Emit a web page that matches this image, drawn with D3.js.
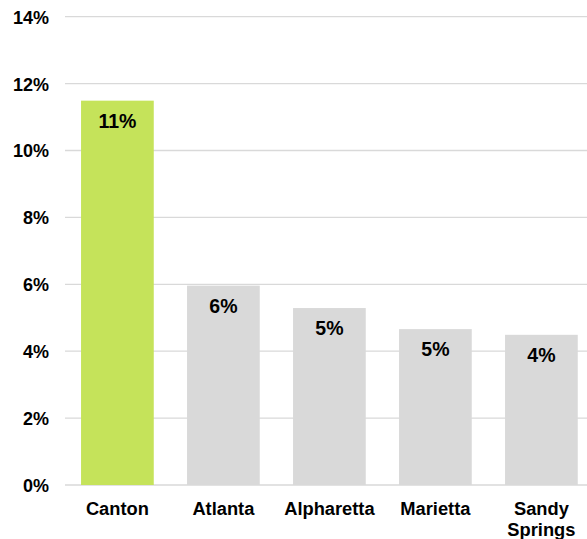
<!DOCTYPE html>
<html>
<head>
<meta charset="utf-8">
<script src="https://cdn.jsdelivr.net/npm/d3@7"></script>
<style>
  html, body { margin: 0; padding: 0; background: #fff; }
  svg { display: block; }
  text { font-family: "Liberation Sans", Arial, sans-serif; font-weight: bold; fill: #000; }
</style>
</head>
<body>
<script>
const categories = ["Canton", "Atlanta", "Alpharetta", "Marietta", "Sandy Springs"];
const values = [11.49, 5.96, 5.29, 4.66, 4.49];
const labels = ["11%", "6%", "5%", "5%", "4%"];
const yTicks = [0, 2, 4, 6, 8, 10, 12, 14];
const highlight = "Canton";

const W = 587, H = 539;
const svg = d3.select("body").append("svg").attr("width", W).attr("height", H);

const x = d3.scaleBand().domain(categories).range([64.4, 594.4]).paddingInner(0.314).paddingOuter(0.157);
const y = d3.scaleLinear().domain([0, 14]).range([485, 16.7]);

// gridlines
svg.append("g").selectAll("line").data(yTicks).join("line")
  .attr("x1", 65).attr("x2", W)
  .attr("y1", d => y(d)).attr("y2", d => y(d))
  .attr("stroke", "#d9d9d9").attr("stroke-width", 1.3);

// y axis labels
const yAxis = d3.axisLeft(y).tickValues(yTicks).tickFormat(d => d + "%").tickSize(0).tickPadding(0);
const gy = svg.append("g").attr("transform", "translate(49,0)").call(yAxis);
gy.select(".domain").remove();
gy.selectAll("text").attr("font-size", 18).attr("font-family", "Liberation Sans, Arial, sans-serif")
  .attr("font-weight", "bold").attr("fill", "#000").attr("dy", "0.36em");

// bars
svg.append("g").selectAll("rect").data(categories).join("rect")
  .attr("x", d => x(d)).attr("width", x.bandwidth())
  .attr("y", (d, i) => y(values[i])).attr("height", (d, i) => y(0) - y(values[i]))
  .attr("fill", d => d === highlight ? "#c5e35a" : "#d9d9d9");

// data labels
svg.append("g").selectAll("text").data(categories).join("text")
  .attr("x", d => x(d) + x.bandwidth() / 2)
  .attr("y", (d, i) => y(values[i]) + 27)
  .attr("text-anchor", "middle").attr("font-size", 19.5)
  .text((d, i) => labels[i]);

// x axis labels
const xl = svg.append("g").selectAll("text").data(categories).join("text")
  .attr("x", d => x(d) + x.bandwidth() / 2)
  .attr("y", 515)
  .attr("text-anchor", "middle").attr("font-size", 18.3);
xl.each(function(d) {
  const words = d.split(" ");
  const t = d3.select(this);
  words.forEach((w, i) => {
    t.append("tspan").attr("x", x(d) + x.bandwidth() / 2).attr("dy", i === 0 ? 0 : 21).text(w);
  });
});
</script>
</body>
</html>
